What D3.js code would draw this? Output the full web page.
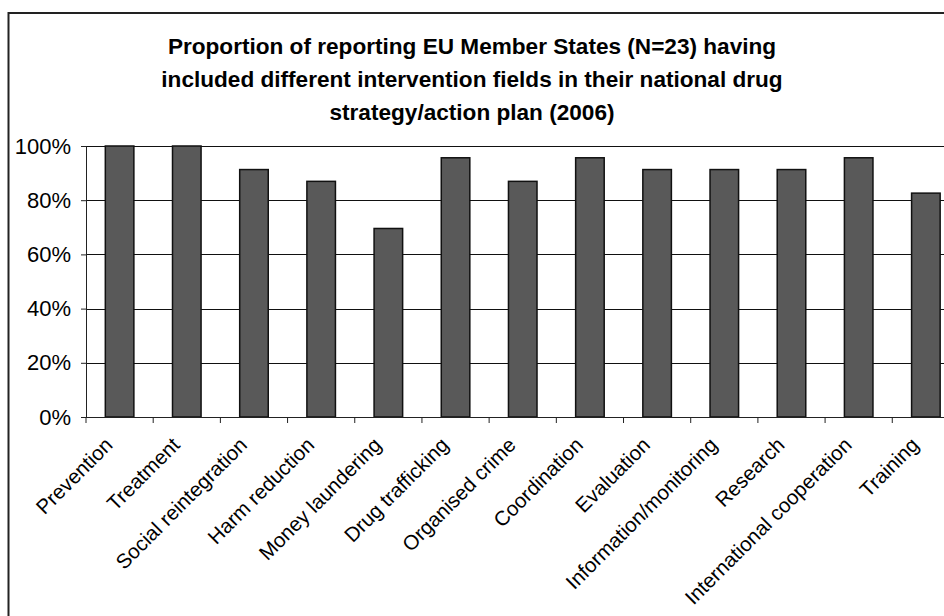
<!DOCTYPE html>
<html>
<head>
<meta charset="utf-8">
<script src="https://cdn.jsdelivr.net/npm/d3@7"></script>
<style>
  html, body { margin: 0; padding: 0; background: #fff; }
  svg { display: block; font-family: "Liberation Sans", Arial, sans-serif; }
</style>
</head>
<body>
<svg id="chart" width="944" height="616"></svg>
<script>
// Intervention fields and number of Member States (out of 23) including each
const categories = [
  "Prevention", "Treatment", "Social reintegration", "Harm reduction",
  "Money laundering", "Drug trafficking", "Organised crime", "Coordination",
  "Evaluation", "Information/monitoring", "Research",
  "International cooperation", "Training"
];
const statesReporting = 23;
const statesIncluding = [23, 23, 21, 20, 16, 22, 20, 22, 21, 21, 21, 22, 19];
const yTicks = [0, 0.2, 0.4, 0.6, 0.8, 1.0];
const titleLines = [
  "Proportion of reporting EU Member States (N=23) having",
  "included different intervention fields in their national drug",
  "strategy/action plan (2006)"
];

const shares = statesIncluding.map(v => v / statesReporting);

const svg = d3.select("#chart");
const W = 944, H = 616;

// Outer chart frame (runs past the right and bottom edges)
svg.append("rect")
  .attr("x", 8.5).attr("y", 13)
  .attr("width", 1000).attr("height", 700)
  .attr("fill", "none").attr("stroke", "#222").attr("stroke-width", 2);

// Title
const title = svg.append("text")
  .attr("text-anchor", "middle")
  .attr("font-weight", "bold")
  .attr("font-size", 22.6)
  .attr("fill", "#000");
titleLines.forEach((t, i) => {
  title.append("tspan").attr("x", 472).attr("y", 54 + i * 33).text(t);
});

// Plot area
const plotLeft = 86, plotTop = 146, plotBottom = 417;
const band = 67.19;
const x = d3.scaleBand()
  .domain(categories)
  .range([plotLeft, plotLeft + band * categories.length])
  .paddingInner(0.575).paddingOuter(0.2875);
const y = d3.scaleLinear().domain([0, 1]).range([plotBottom, plotTop]);

// Gridlines
svg.append("g")
  .selectAll("line")
  .data(yTicks.filter(d => d > 0))
  .join("line")
  .attr("x1", plotLeft).attr("x2", W + 20)
  .attr("y1", d => Math.round(y(d)) + 0.5).attr("y2", d => Math.round(y(d)) + 0.5)
  .attr("stroke", "#111").attr("stroke-width", 1);

// Bars
svg.append("g")
  .selectAll("rect")
  .data(shares)
  .join("rect")
  .attr("x", (d, i) => x(categories[i]))
  .attr("y", d => y(d))
  .attr("width", x.bandwidth())
  .attr("height", d => plotBottom - y(d))
  .attr("fill", "#595959")
  .attr("stroke", "#111").attr("stroke-width", 1.5);

// Y axis
const yAxis = svg.append("g")
  .attr("transform", `translate(${plotLeft},0)`)
  .call(d3.axisLeft(y).tickValues(yTicks).tickFormat(d3.format(".0%")).tickSize(5).tickPadding(10));
yAxis.select(".domain").attr("stroke", "#222");
yAxis.selectAll(".tick line").attr("stroke", "#222");
yAxis.selectAll("text")
  .attr("font-size", 22).attr("fill", "#000")
  .attr("font-family", "'Liberation Sans', Arial, sans-serif");

// X axis baseline and category boundary ticks
const xAxisG = svg.append("g");
xAxisG.append("line")
  .attr("x1", plotLeft).attr("x2", W + 20)
  .attr("y1", plotBottom + 0.5).attr("y2", plotBottom + 0.5)
  .attr("stroke", "#222");
xAxisG.selectAll("line.tk")
  .data(d3.range(categories.length + 1))
  .join("line").attr("class", "tk")
  .attr("x1", i => plotLeft + i * band).attr("x2", i => plotLeft + i * band)
  .attr("y1", plotBottom).attr("y2", plotBottom + 6)
  .attr("stroke", "#222");

// Rotated category labels
svg.append("g")
  .selectAll("text")
  .data(categories)
  .join("text")
  .attr("transform", d => `translate(${x(d) + x.bandwidth() / 2 - 16},${plotBottom + 19}) rotate(-45)`)
  .attr("text-anchor", "end")
  .attr("dy", "0.71em")
  .attr("font-size", 20.5)
  .attr("fill", "#000")
  .text(d => d);
</script>
</body>
</html>
